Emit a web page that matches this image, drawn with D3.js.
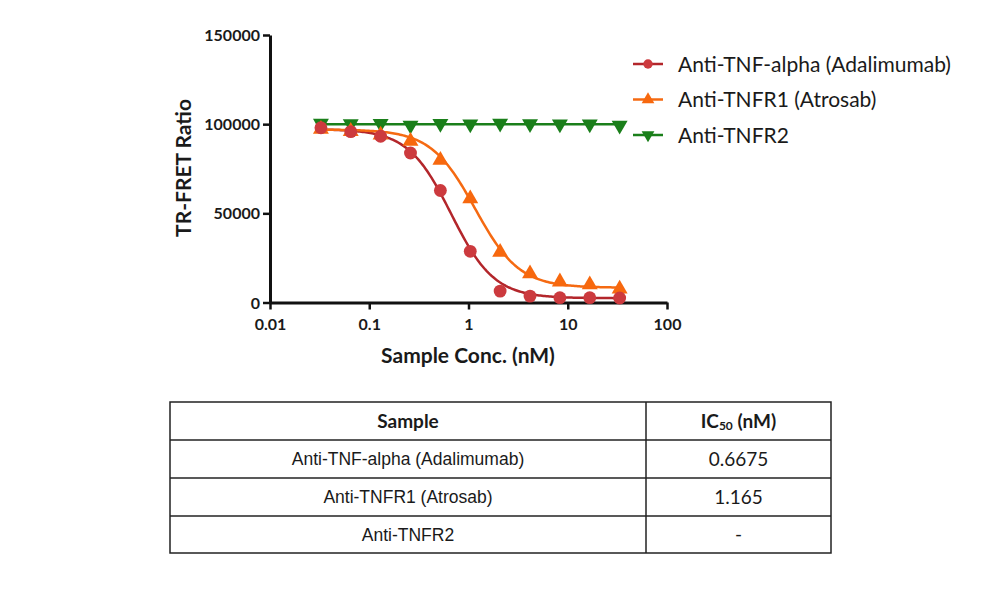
<!DOCTYPE html>
<html>
<head>
<meta charset="utf-8">
<script src="https://cdn.jsdelivr.net/npm/d3@7"></script>
<style>
  body { margin: 0; background: #fff; }
  svg text { font-family: Lato, "Open Sans", sans-serif; }
</style>
</head>
<body>
<div id="chart"></div>
<script>
// concentrations (nM), 2-fold dilutions
var conc = [0.0326, 0.0651, 0.1302, 0.2604, 0.5208, 1.0417, 2.0833, 4.1667, 8.3333, 16.667, 33.333];

var seriesNames = ["Anti-TNF-alpha (Adalimumab)", "Anti-TNFR1 (Atrosab)", "Anti-TNFR2"];
var seriesColors = ["#cc3a3e", "#f7680e", "#1a7f1a"];
var lineColors = ["#b3262b", "#f56a12", "#1a7f1a"];
var seriesShapes = ["circle", "triangle", "down"];

var adalimumab = [98000, 95800, 93200, 83800, 62800, 28700, 6400, 3600, 2700, 2700, 2500];
var atrosab = [97200, 96000, 94000, 90500, 79800, 58200, 28200, 16200, 11600, 10000, 7600];
var antiTnfr2 = [100400, 100200, 100300, 99400, 100300, 100100, 100500, 100200, 100000, 100000, 99300];

// 4PL fit parameters: top, bottom, IC50, hill
var fitAdalimumab = [97200, 2400, 0.6675, 2.0];
var fitAtrosab = [97000, 8300, 1.165, 1.95];
var fitTnfr2 = [100000, 100000, 1, 1];

var xTicks = [0.01, 0.1, 1, 10, 100];
var xTickLabels = ["0.01", "0.1", "1", "10", "100"];
var yTicks = [0, 50000, 100000, 150000];

var tableHeader = ["Sample", "IC50 (nM)"];
var tableSamples = ["Anti-TNF-alpha (Adalimumab)", "Anti-TNFR1 (Atrosab)", "Anti-TNFR2"];
var tableIC50 = ["0.6675", "1.165", "-"];

var series = [adalimumab, atrosab, antiTnfr2];
var fits = [fitAdalimumab, fitAtrosab, fitTnfr2];

var svg = d3.select("#chart").append("svg")
    .attr("width", 1000)
    .attr("height", 601);

var x = d3.scaleLog().domain([0.01, 100]).range([270, 667]);
var y = d3.scaleLinear().domain([0, 150000]).range([302.5, 35]);

// axes
var xAxis = d3.axisBottom(x).tickValues(xTicks)
    .tickFormat(function(d, i) { return xTickLabels[i]; })
    .tickSizeOuter(0).tickSizeInner(7).tickPadding(9);
var yAxis = d3.axisLeft(y).tickValues(yTicks)
    .tickFormat(d3.format("d"))
    .tickSizeOuter(0).tickSizeInner(7).tickPadding(3);

var gx = svg.append("g").attr("transform", "translate(0," + y(0) + ")").call(xAxis);
var gy = svg.append("g").attr("transform", "translate(" + x(0.01) + ",0)").call(yAxis);

[gx, gy].forEach(function(g) {
  g.select(".domain").attr("stroke", "#111").attr("stroke-width", 3);
  g.selectAll(".tick line").attr("stroke", "#111").attr("stroke-width", 2.5);
  g.selectAll(".tick text")
    .attr("fill", "#1a1a1a")
    .style("font-family", "Lato, sans-serif")
    .style("font-weight", "bold")
    .style("font-size", "16px");
});
gy.selectAll(".tick text").attr("dy", "0.35em");

// axis titles
svg.append("text")
    .attr("x", 468).attr("y", 363)
    .attr("text-anchor", "middle")
    .style("font-weight", "bold").style("font-size", "21px")
    .attr("fill", "#1a1a1a")
    .text("Sample Conc. (nM)");

svg.append("text")
    .attr("transform", "translate(191,168) rotate(-90)")
    .attr("text-anchor", "middle")
    .style("font-weight", "bold").style("font-size", "21px")
    .attr("fill", "#1a1a1a")
    .text("TR-FRET Ratio");

// fitted curves
function fourPL(p, c) {
  return p[1] + (p[0] - p[1]) / (1 + Math.pow(c / p[2], p[3]));
}

var line = d3.line()
    .x(function(d) { return x(d[0]); })
    .y(function(d) { return y(d[1]); });

var lo = Math.log10(conc[0]), hi = Math.log10(conc[conc.length - 1]);
fits.forEach(function(p, i) {
  var pts = d3.range(0, 201).map(function(k) {
    var c = Math.pow(10, lo + (hi - lo) * k / 200);
    return [c, fourPL(p, c)];
  });
  svg.append("path")
      .attr("d", line(pts))
      .attr("fill", "none")
      .attr("stroke", lineColors[i])
      .attr("stroke-width", 2.5);
});

// markers
function symbolFor(shape, size) {
  return d3.symbol().type(shape === "circle" ? d3.symbolCircle : d3.symbolTriangle).size(size);
}

function drawMarker(g, shape, cx, cy, color, size) {
  g.append("path")
      .attr("d", symbolFor(shape, size)())
      .attr("transform", "translate(" + cx + "," + cy + ")" + (shape === "down" ? " rotate(180)" : ""))
      .attr("fill", color);
}

var order = [2, 1, 0];
order.forEach(function(i) {
  var g = svg.append("g");
  series[i].forEach(function(v, j) {
    drawMarker(g, seriesShapes[i], x(conc[j]), y(v), seriesColors[i],
      seriesShapes[i] === "circle" ? 130 : 110);
  });
});

// legend
var legend = svg.append("g");
seriesNames.forEach(function(name, i) {
  var ly = 64 + i * 35.5;
  legend.append("line")
      .attr("x1", 633).attr("x2", 663)
      .attr("y1", ly).attr("y2", ly)
      .attr("stroke", lineColors[i]).attr("stroke-width", 2.5);
  drawMarker(legend, seriesShapes[i], 648, ly, seriesColors[i], 70);
  legend.append("text")
      .attr("x", 678).attr("y", ly)
      .attr("dy", "0.36em")
      .style("font-size", "21px")
      .attr("fill", "#1a1a1a")
      .text(name);
});

// table
var tLeft = 170, tRight = 831, tDiv = 646;
var rowEdges = [402, 440, 478, 516, 553];
var table = svg.append("g");

table.append("rect")
    .attr("x", tLeft).attr("y", rowEdges[0])
    .attr("width", tRight - tLeft).attr("height", rowEdges[4] - rowEdges[0])
    .attr("fill", "none").attr("stroke", "#222").attr("stroke-width", 1.5);
table.append("line")
    .attr("x1", tDiv).attr("x2", tDiv)
    .attr("y1", rowEdges[0]).attr("y2", rowEdges[4])
    .attr("stroke", "#222").attr("stroke-width", 1.5);
rowEdges.slice(1, 4).forEach(function(ry) {
  table.append("line")
      .attr("x1", tLeft).attr("x2", tRight)
      .attr("y1", ry).attr("y2", ry)
      .attr("stroke", "#222").attr("stroke-width", 1.5);
});

var c1 = (tLeft + tDiv) / 2, c2 = (tDiv + tRight) / 2;
var hy = (rowEdges[0] + rowEdges[1]) / 2;

table.append("text")
    .attr("x", c1).attr("y", hy).attr("dy", "0.36em")
    .attr("text-anchor", "middle")
    .style("font-weight", "bold").style("font-size", "19px")
    .attr("fill", "#1a1a1a")
    .text(tableHeader[0]);

var ic = table.append("text")
    .attr("x", c2).attr("y", hy).attr("dy", "0.36em")
    .attr("text-anchor", "middle")
    .style("font-weight", "bold").style("font-size", "19px")
    .attr("fill", "#1a1a1a");
ic.append("tspan").text("IC");
ic.append("tspan").style("font-size", "12px").attr("dy", "2").text("50");
ic.append("tspan").attr("dy", "-2").text(" (nM)");

tableSamples.forEach(function(s, i) {
  var cy = (rowEdges[i + 1] + rowEdges[i + 2]) / 2;
  table.append("text")
      .attr("x", c1).attr("y", cy).attr("dy", "0.36em")
      .attr("text-anchor", "middle")
      .style("font-family", "'Liberation Sans', Arial, sans-serif")
      .style("font-size", "17.5px")
      .attr("fill", "#1a1a1a")
      .text(s);
  table.append("text")
      .attr("x", c2).attr("y", cy).attr("dy", "0.36em")
      .attr("text-anchor", "middle")
      .style("font-size", "19px")
      .attr("fill", "#1a1a1a")
      .text(tableIC50[i]);
});
</script>
</body>
</html>
